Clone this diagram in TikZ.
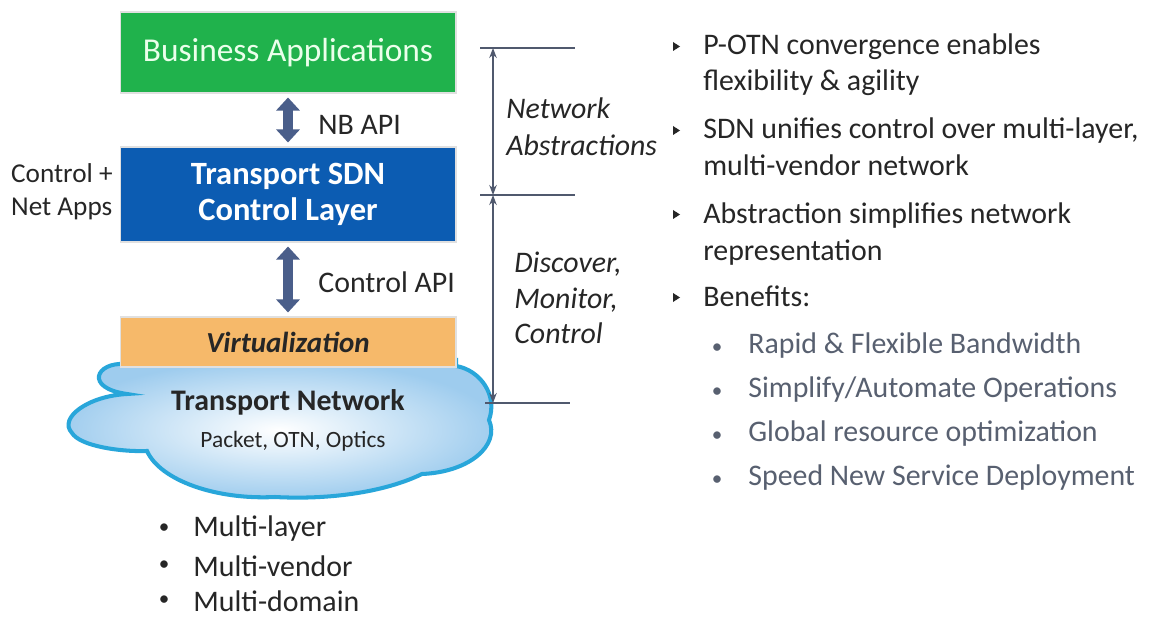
\documentclass[tikz,border=0pt]{standalone}
\usepackage{fontspec}
\setmainfont{Carlito}
\usetikzlibrary{arrows.meta, positioning, calc}
\definecolor{verde}{RGB}{32,178,76}
\definecolor{azul}{RGB}{12,92,178}
\definecolor{laranja}{RGB}{246,185,106}
\definecolor{ardosia}{RGB}{74,94,138}
\definecolor{borda}{RGB}{40,166,218}
\definecolor{ceu}{RGB}{158,204,238}
\definecolor{cinza}{RGB}{88,96,112}
\definecolor{traco}{RGB}{80,89,110}
\definecolor{texto}{RGB}{38,38,38}
\tikzset{
    camada/.style = {draw=black!12, line width=0.6pt, minimum width=6.72cm, inner sep=0pt},
    seta/.style   = {{Triangle[width=0.46cm,length=0.26cm]}-{Triangle[width=0.46cm,length=0.26cm]},
                     line width=0.2cm, ardosia, shorten <=4*0.02cm, shorten >=4*0.02cm},
    cota/.style   = {{Stealth[width=0.15cm,length=0.2cm]}-{Stealth[width=0.15cm,length=0.2cm]},
                     traco, line width=0.75pt},
    regua/.style  = {traco, line width=0.9pt},
    rot/.style    = {font=\fontsize{17}{20.5}\selectfont, text=texto, inner sep=0pt},
    pingo/.style  = {font=\fontsize{12}{14}\selectfont, inner sep=0pt},
    nota/.style   = {font=\itshape\fontsize{17}{20.5}\selectfont, text=texto, inner sep=0pt, align=left},
    item/.style   = {font=\fontsize{17}{20.5}\selectfont, text=texto, inner sep=0pt, anchor=base west},
    subitem/.style= {font=\fontsize{17}{20.5}\selectfont, text=cinza, inner sep=0pt, anchor=base west},
    nuvem/.style  = {draw=borda, line width=2.3pt, inner color=white, outer color=ceu},
}
\begin{document}
\begin{tikzpicture}[x=0.02cm, y=-0.02cm]
    \fill[white] (0,0) rectangle (1152,618);
    \useasboundingbox (0,0) rectangle (1152,618);
    % pilha da esquerda
    \node[camada, fill=verde, minimum height=1.62cm, text=white!92!green,
          font=\fontsize{19}{22}\selectfont] (biz) at (288,52.5) {Business Applications};
    \node[camada, fill=azul, minimum height=1.9cm, text=white, align=center,
          font=\bfseries\fontsize{18.5}{20.5}\selectfont] (ctl) at (288,194.5) {Transport SDN\\Control Layer};
    \draw[nuvem] (125,364)
        .. controls (96,362) and (84,388) .. (127,394)
        .. controls (88,396) and (58,418) .. (72,433)
        .. controls (80,446) and (120,452) .. (147,451)
        .. controls (160,480) and (215,500) .. (275,497)
        .. controls (330,500) and (385,492) .. (422,474)
        .. controls (470,472) and (500,445) .. (489,420)
        .. controls (498,395) and (480,370) .. (456,366)
        -- (456,360) -- (125,360) -- cycle;
    \node[camada, fill=laranja, minimum height=1cm, text=texto,
          font=\bfseries\itshape\fontsize{16.5}{18}\selectfont] (virt) at (288,342) {Virtualization};
    \node[font=\bfseries\fontsize{17}{20}\selectfont, text=texto, inner sep=0pt] (tn) at (288,402) {Transport Network};
    \node[font=\fontsize{13.3}{16}\selectfont, text=texto, inner sep=0pt] (pk) at (293,441) {Packet, OTN, Optics};
    \draw[seta] (biz) -- (ctl);
    \draw[seta] (ctl) -- (virt);
    \node[rot, anchor=west] (nb) at (318,125) {NB API};
    \node[rot, anchor=west] (capi) at (318,282) {Control API};
    \node[rot, anchor=east, align=left, font=\fontsize{15.5}{19}\selectfont] (apps) at (113,192) {Control +\\Net Apps};
    \foreach \y/\t [count=\i] in {529/Multi-layer, 566/Multi-vendor, 601/Multi-domain} {
        \node[pingo, text=texto] (mb\i) at (164,\y) {•};
        \node[rot, anchor=west] (mt\i) at (193,\y) {\t};
    }
    % cotas
    \coordinate (c1) at (493,48);
    \coordinate (c2) at (493,195);
    \coordinate (c3) at (493,403);
    \draw[regua] (480,48) -- (575,48);
    \draw[regua] (480,195) -- (575,195);
    \draw[regua] (485,403) -- (570,403);
    \draw[cota] (c1) -- (c2);
    \draw[cota] (c2) -- (c3);
    \node[nota, anchor=west, font=\itshape\fontsize{17}{21}\selectfont] (abs) at (506,127) {Network\\Abstractions};
    \node[nota, anchor=west, font=\itshape\fontsize{17}{20.3}\selectfont] (dmc) at (514,298) {Discover,\\Monitor,\\Control};
    % lista da direita
    \foreach \y/\t [count=\i] in {55/P-OTN convergence enables, 91/flexibility \& agility,
            139/{SDN unifies control over multi-layer,}, 175/multi-vendor network,
            223/Abstraction simplifies network, 260/representation, 306/Benefits:} {
        \node[item] (it\i) at (703,\y) {\t};
    }
    \foreach \y in {55,139,223,306}
        \fill[texto] (673,\y-13) -- (673,\y-4) -- (680,\y-8.5) -- cycle;
    \foreach \y/\t [count=\i] in {353/{Rapid \& Flexible Bandwidth}, 397/{Simplify/Automate Operations},
            441/{Global resource optimization}, 485/{Speed New Service Deployment}} {
        \node[pingo, text=cinza, anchor=base] (sb\i) at (717,\y) {•};
        \node[subitem] (st\i) at (748,\y) {\t};
    }
\end{tikzpicture}
\end{document}
